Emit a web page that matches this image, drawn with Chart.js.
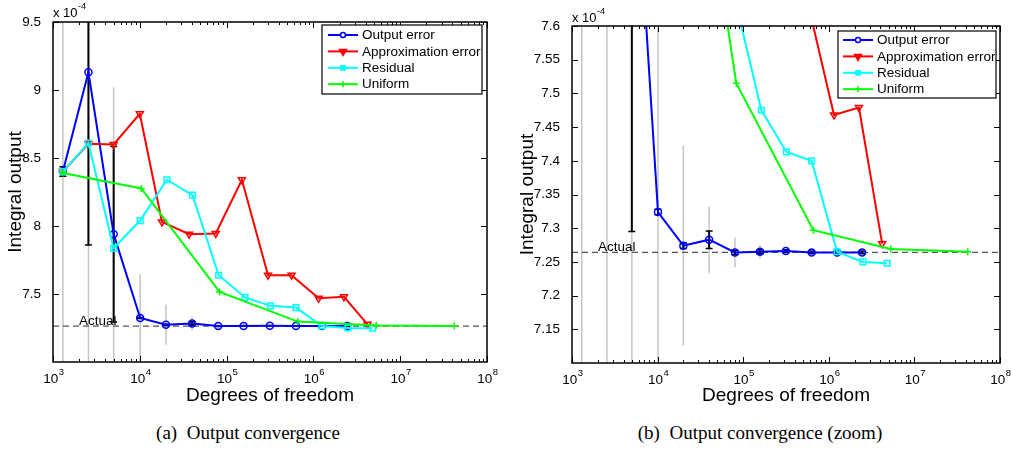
<!DOCTYPE html>
<html>
<head>
<meta charset="utf-8">
<script src="https://cdn.jsdelivr.net/npm/chart.js@4.4.1/dist/chart.umd.min.js"></script>
<style>
  body { margin: 0; background: #fff; }
  #wrap { position: relative; width: 1012px; height: 450px; overflow: hidden; }
  canvas { position: absolute; top: 0; }
  .cap { position: absolute; top: 423px; width: 300px; text-align: center; white-space: pre;
         font-family: "Liberation Serif", "Times New Roman", serif; font-size: 19px; line-height: 19px; color: #000; }
</style>
</head>
<body>
<div id="wrap">
  <canvas id="full" width="506" height="410" style="left:0"></canvas>
  <canvas id="zoom" width="506" height="410" style="left:506px"></canvas>
  <div class="cap" style="left:98px">(a)  Output convergence</div>
  <div class="cap" style="left:610px">(b)  Output convergence (zoom)</div>
</div>
<script>
// all outputs are in units of 1e-4 (the axis multiplier)
const actualValue = 7.264;

// Output error (adaptive, with confidence bars)
const outputDof = [1300, 2560, 5000, 10100, 20000, 40000, 80000, 157000, 315000, 630000, 1250000, 2450000];
const outputVal = [8.40, 9.13, 7.94, 7.324, 7.274, 7.283, 7.264, 7.265, 7.266, 7.264, 7.264, 7.264];
const outputErr = [0.035, 1.27, 0.645, 0.004, 0.004, 0.013, 0.003, 0.003, 0.002, 0.002, 0.002, 0.002];
const outputSpread = [2.0, 2.5, 1.08, 0.32, 0.148, 0.049, 0.022, 0.01, 0, 0, 0, 0];

// Approximation error
const approxDof = [1300, 2560, 5000, 10000, 18000, 37000, 75000, 150000, 300000, 560000, 1150000, 2250000, 4200000];
const approxVal = [8.40, 8.605, 8.60, 8.825, 8.03, 7.94, 7.945, 8.34, 7.638, 7.638, 7.468, 7.479, 7.277];

// Residual
const residDof = [1300, 2560, 5000, 10100, 20500, 40500, 81000, 163000, 320000, 630000, 1250000, 2500000, 4800000];
const residVal = [8.40, 8.61, 7.836, 8.04, 8.34, 8.227, 7.638, 7.475, 7.413, 7.40, 7.265, 7.250, 7.248];

// Uniform refinement
const uniformDof = [1300, 10400, 83000, 660000, 5300000, 42000000];
const uniformVal = [8.39, 8.276, 7.515, 7.297, 7.269, 7.265];

const xTickExp = [3, 4, 5, 6, 7, 8];
const fullTicks = [7.5, 8, 8.5, 9, 9.5];
const zoomTicks = [7.15, 7.2, 7.25, 7.3, 7.35, 7.4, 7.45, 7.5, 7.55, 7.6];

const fam = '"Liberation Sans", Arial, sans-serif';
Chart.defaults.font.family = fam;

function pts(xs, ys) {
  return xs.map((d, i) => ({ x: d, y: ys[i] }));
}

// matlab-style decorations: error bars, box, inward ticks, legend, labels
const matlab = {
  id: 'matlab',
  beforeDatasetsDraw(chart) {
    const { ctx, chartArea: a, scales: { x, y } } = chart;
    ctx.save();
    ctx.beginPath();
    ctx.rect(a.left, a.top, a.width, a.height);
    ctx.clip();

    // wide grey spread
    ctx.strokeStyle = '#c4c4c4';
    ctx.lineWidth = 1.5;
    outputDof.forEach((d, i) => {
      const s = outputSpread[i];
      if (!s) return;
      const px = x.getPixelForValue(d);
      ctx.beginPath();
      ctx.moveTo(px, y.getPixelForValue(outputVal[i] - s));
      ctx.lineTo(px, y.getPixelForValue(outputVal[i] + s));
      ctx.stroke();
    });

    // actual value
    const ya = y.getPixelForValue(actualValue);
    ctx.strokeStyle = '#555';
    ctx.lineWidth = 1.3;
    ctx.setLineDash([6, 4]);
    ctx.beginPath();
    ctx.moveTo(a.left, ya);
    ctx.lineTo(a.right, ya);
    ctx.stroke();
    ctx.setLineDash([]);

    // black error bars
    ctx.strokeStyle = '#000';
    outputDof.forEach((d, i) => {
      const e = outputErr[i];
      const px = x.getPixelForValue(d);
      const y1 = y.getPixelForValue(outputVal[i] - e);
      const y2 = y.getPixelForValue(outputVal[i] + e);
      ctx.lineWidth = 2;
      ctx.beginPath();
      ctx.moveTo(px, y1);
      ctx.lineTo(px, y2);
      ctx.stroke();
      ctx.lineWidth = 1.5;
      ctx.beginPath();
      ctx.moveTo(px - 3.5, y1); ctx.lineTo(px + 3.5, y1);
      ctx.moveTo(px - 3.5, y2); ctx.lineTo(px + 3.5, y2);
      ctx.stroke();
    });
    ctx.restore();
  },
  afterDraw(chart, args, o) {
    const { ctx, chartArea: a, scales: { x, y } } = chart;
    ctx.save();

    // box
    ctx.strokeStyle = '#000';
    ctx.lineWidth = 1.5;
    ctx.strokeRect(a.left, a.top, a.width, a.height);

    // inward ticks
    ctx.lineWidth = 1;
    ctx.beginPath();
    for (let e = 3; e <= 8; e++) {
      for (let m = 1; m <= 9; m++) {
        if (e === 8 && m > 1) break;
        const px = Math.round(x.getPixelForValue(m * Math.pow(10, e))) + 0.5;
        const len = m === 1 ? 6 : 3;
        ctx.moveTo(px, a.bottom); ctx.lineTo(px, a.bottom - len);
        ctx.moveTo(px, a.top); ctx.lineTo(px, a.top + len);
      }
    }
    y.ticks.forEach(t => {
      const py = Math.round(y.getPixelForValue(t.value)) + 0.5;
      ctx.moveTo(a.left, py); ctx.lineTo(a.left + 6, py);
      ctx.moveTo(a.right, py); ctx.lineTo(a.right - 6, py);
    });
    ctx.stroke();

    // x tick labels 10^n
    ctx.fillStyle = '#000';
    ctx.textAlign = 'left';
    ctx.textBaseline = 'alphabetic';
    xTickExp.forEach(e => {
      const px = x.getPixelForValue(Math.pow(10, e));
      ctx.font = '13.5px ' + fam;
      const w1 = ctx.measureText('10').width;
      ctx.font = '9.5px ' + fam;
      const w2 = ctx.measureText(String(e)).width;
      const sx = px - (w1 + w2) / 2 + 0.5;
      ctx.font = '13.5px ' + fam;
      ctx.fillText('10', sx, a.bottom + 21);
      ctx.font = '9.5px ' + fam;
      ctx.fillText(String(e), sx + w1 + 0.5, a.bottom + 13);
    });

    // multiplier
    ctx.font = '13px ' + fam;
    ctx.fillText('x 10', a.left, a.top - o.multY);
    const wm = ctx.measureText('x 10').width;
    ctx.font = '9px ' + fam;
    ctx.fillText('-4', a.left + wm + 0.5, a.top - o.multY - 8);

    // actual label
    ctx.font = '13.5px ' + fam;
    ctx.fillText('Actual', a.left + 26, y.getPixelForValue(actualValue) - 1);

    // axis titles
    ctx.font = '19px ' + fam;
    ctx.textAlign = 'center';
    ctx.fillText('Degrees of freedom', (a.left + a.right) / 2, 401);
    ctx.save();
    ctx.translate(o.ylabelX, (a.top + a.bottom) / 2);
    ctx.rotate(-Math.PI / 2);
    ctx.textBaseline = 'middle';
    ctx.fillText('Integral output', 0, 0);
    ctx.restore();

    // legend
    const L = o.legend;
    const bx = a.right - L.inset - L.w;
    const by = a.top + L.top;
    ctx.fillStyle = '#fff';
    ctx.fillRect(bx, by, L.w, L.h);
    ctx.strokeStyle = '#000';
    ctx.lineWidth = 1.2;
    ctx.strokeRect(bx, by, L.w, L.h);
    ctx.save();
    ctx.beginPath();
    ctx.rect(bx, by, L.w - 1, L.h);
    ctx.clip();
    chart.data.datasets.forEach((ds, i) => {
      const ry = by + L.first + i * L.step;
      const lx = bx + L.line0;
      ctx.strokeStyle = ds.borderColor;
      ctx.lineWidth = ds.borderWidth;
      ctx.beginPath();
      ctx.moveTo(lx, ry);
      ctx.lineTo(lx + 30, ry);
      ctx.stroke();
      ctx.fillStyle = ds.pointStyle === 'circle' ? '#fff' : ds.borderColor;
      ctx.lineWidth = 1.5;
      Chart.helpers.drawPoint(ctx, {
        pointStyle: ds.pointStyle,
        radius: ds.legendRadius,
        rotation: ds.pointRotation || 0,
        borderWidth: 1.5
      }, lx + 15, ry);
      ctx.fillStyle = '#000';
      ctx.font = '13.5px ' + fam;
      ctx.textAlign = 'left';
      ctx.textBaseline = 'middle';
      ctx.fillText(ds.label, bx + L.text, ry + 0.5);
    });
    ctx.restore();

    ctx.restore();
  }
};

function makeDatasets() {
  const base = { borderWidth: 2, tension: 0, clip: 0, pointBackgroundColor: 'rgba(0,0,0,0)', pointBorderWidth: 1.5 };
  return [
    Object.assign({}, base, { label: 'Output error', data: pts(outputDof, outputVal), borderColor: '#0000ff',
      pointBorderColor: '#0000ff', pointStyle: 'circle', pointRadius: 3.5, legendRadius: 2.5, order: 4 }),
    Object.assign({}, base, { label: 'Approximation error', data: pts(approxDof, approxVal), borderColor: '#ff0000',
      pointBorderColor: '#ff0000', pointStyle: 'triangle', pointRotation: 180, pointRadius: 4, legendRadius: 4, order: 3 }),
    Object.assign({}, base, { label: 'Residual', data: pts(residDof, residVal), borderColor: '#00ffff',
      pointBorderColor: '#00ffff', pointStyle: 'rect', pointRadius: 4, legendRadius: 3, order: 2 }),
    Object.assign({}, base, { label: 'Uniform', data: pts(uniformDof, uniformVal), borderColor: '#00ff00',
      pointBorderColor: '#00ff00', pointStyle: 'cross', pointRadius: 3.5, legendRadius: 3, order: 1 })
  ];
}

function makeChart(id, cfg) {
  return new Chart(document.getElementById(id), {
    type: 'line',
    data: { datasets: makeDatasets() },
    plugins: [matlab],
    options: {
      responsive: false,
      animation: false,
      devicePixelRatio: 1,
      events: [],
      layout: { padding: { top: cfg.top, right: cfg.right, left: 0, bottom: 0 } },
      plugins: {
        legend: { display: false },
        tooltip: { enabled: false },
        matlab: cfg.deco
      },
      scales: {
        x: {
          type: 'logarithmic', min: 1e3, max: 1e8,
          grid: { display: false }, border: { display: false },
          ticks: { display: false },
          afterFit: s => { s.height = cfg.xh; }
        },
        y: {
          min: cfg.ymin, max: cfg.ymax,
          grid: { display: false }, border: { display: false },
          ticks: { color: '#000', padding: 4, font: { size: 13.5 }, callback: v => String(v) },
          afterBuildTicks: s => { s.ticks = cfg.ticks.map(v => ({ value: v })); },
          afterFit: s => { s.width = cfg.yw; }
        }
      }
    }
  });
}

makeChart('full', {
  top: 22, right: 19, xh: 48, yw: 53, ymin: 7.0, ymax: 9.5, ticks: fullTicks,
  deco: { multY: 5, ylabelX: 16, legend: { inset: 5, top: 3, w: 160, h: 69, first: 10, step: 16.4, line0: 6, text: 40 } }
});
makeChart('zoom', {
  top: 26, right: 12, xh: 47, yw: 66, ymin: 7.1, ymax: 7.6, ticks: zoomTicks,
  deco: { multY: 4, ylabelX: 22, legend: { inset: 4, top: 5, w: 158, h: 67, first: 9, step: 16.4, line0: 5, text: 39 } }
});
</script>
</body>
</html>
